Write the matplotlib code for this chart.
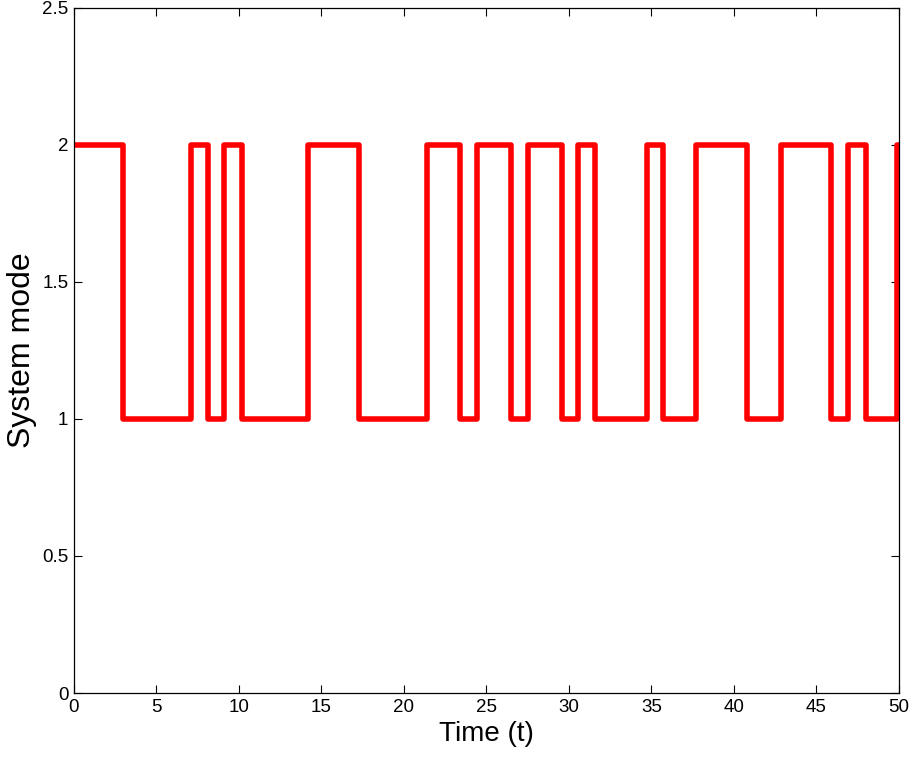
import matplotlib
matplotlib.use("Agg")
import matplotlib.pyplot as plt

# switching instants and system mode held after each instant
times = [0, 3.0, 7.1, 8.1, 9.1, 10.2, 14.2, 17.3, 21.4, 23.4, 24.4, 26.5,
         27.5, 29.55, 30.55, 31.6, 34.7, 35.7, 37.7, 40.8, 42.85, 45.9,
         46.9, 48.0, 49.9, 50]
modes = [2, 1, 2, 1, 2, 1, 2, 1, 2, 1, 2, 1,
         2, 1, 2, 1, 2, 1, 2, 1, 2, 1,
         2, 1, 2, 2]

xticks = [0, 5, 10, 15, 20, 25, 30, 35, 40, 45, 50]
yticks = [0, 0.5, 1, 1.5, 2, 2.5]
ytick_labels = ["0", "0.5", "1", "1.5", "2", "2.5"]

plt.rcParams['font.family'] = ['Liberation Sans', 'DejaVu Sans']

fig = plt.figure(figsize=(9.10, 7.57), dpi=100)
ax = fig.add_axes([0.0813, 0.0845, 0.9066, 0.9055])

ax.step(times, modes, where="post", color="red", linewidth=4.0,
        solid_joinstyle="round")

ax.set_xlim(0, 50)
ax.set_ylim(0, 2.5)
ax.set_xticks(xticks)
ax.set_yticks(yticks)
ax.set_yticklabels(ytick_labels)
ax.tick_params(direction="in", length=6, width=0.8, top=True, right=True,
               labelsize=13.5, pad=4)
for s in ax.spines.values():
    s.set_linewidth(0.9)

ax.set_xlabel("Time (t)", fontsize=20, labelpad=4)
ax.set_ylabel("System mode", fontsize=23, labelpad=4)

fig.savefig("out.png", dpi=100)
